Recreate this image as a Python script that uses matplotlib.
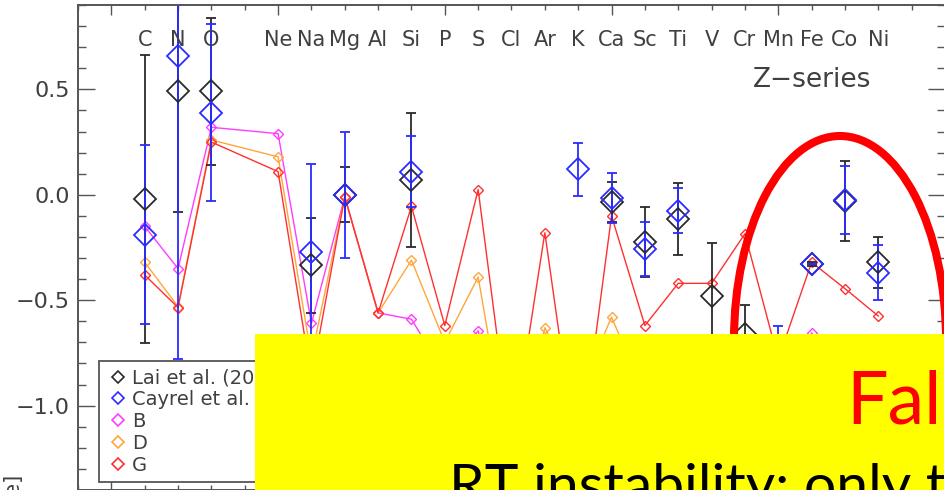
import numpy as np
import matplotlib.pyplot as plt
from matplotlib.lines import Line2D
from matplotlib.patches import Ellipse, Rectangle
from matplotlib.ticker import MultipleLocator

# element labels along the top (F, Z=9, is left out)
elements = ['C', 'N', 'O', 'Ne', 'Na', 'Mg', 'Al', 'Si', 'P', 'S', 'Cl', 'Ar',
            'K', 'Ca', 'Sc', 'Ti', 'V', 'Cr', 'Mn', 'Fe', 'Co', 'Ni']
element_z = [6, 7, 8, 10, 11, 12, 13, 14, 15, 16, 17, 18,
             19, 20, 21, 22, 23, 24, 25, 26, 27, 28]

# model yields [X/Fe]
model_b = [-0.15, -0.35, 0.32, 0.29, -0.61, -0.01, -0.56, -0.59, -0.85, -0.645, -1.30, -0.95,
           -1.20, -0.85, -1.00, -0.90, -1.00, -0.85, -1.10, -0.655, -0.90, -0.85]
model_d = [-0.32, -0.53, 0.26, 0.18, -0.77, -0.01, -0.56, -0.31, -0.70, -0.39, -1.30, -0.63,
           -0.95, -0.58, -0.95, -0.85, -0.95, -0.80, -1.10, -0.80, -0.90, -0.85]
model_g = [-0.38, -0.535, 0.25, 0.11, -0.87, -0.01, -0.56, -0.055, -0.62, 0.025, -1.20, -0.18,
           -1.30, -0.10, -0.62, -0.42, -0.42, -0.185, -0.78, -0.32, -0.445, -0.575]

# observed abundances
lai_z = [6, 7, 8, 11, 12, 14, 20, 21, 22, 23, 24, 26, 27, 28]
lai_val = [-0.02, 0.49, 0.49, -0.335, 0.0, 0.07, -0.035, -0.225, -0.115, -0.48, -0.66, -0.33, -0.03, -0.32]
lai_err = [0.685, 0.57, 0.35, 0.225, 0.13, 0.32, 0.095, 0.165, 0.17, 0.25, 0.135, 0.01, 0.19, 0.12]

cayrel_z = [6, 7, 8, 11, 12, 14, 19, 20, 21, 22, 25, 26, 27, 28]
cayrel_val = [-0.19, 0.66, 0.39, -0.27, 0.0, 0.11, 0.12, -0.017, -0.257, -0.075, -0.90, -0.33, -0.024, -0.37]
cayrel_err = [0.425, 1.44, 0.42, 0.415, 0.30, 0.17, 0.125, 0.118, 0.13, 0.105, 0.28, 0.0, 0.16, 0.13]

c_lai = '#2a2a2a'
c_cay = '#2b2bff'
c_b = '#ff3cff'
c_d = '#ffa63c'
c_g = '#ff3030'
axis_gray = '#555555'
text_gray = '#404040'

fig = plt.figure(figsize=(9.45, 4.9), dpi=100)
ax = fig.add_axes([78 / 945, 0.0, 1 - 78 / 945, 485 / 490])

for vals, col in [(model_b, c_b), (model_d, c_d), (model_g, c_g)]:
    ax.plot(element_z, vals, color=col, lw=1.0, marker='D', ms=5.5,
            mfc='none', mec=col, mew=1.0)

ax.errorbar(lai_z, lai_val, yerr=lai_err, fmt='D', ms=11, mfc='none', mec=c_lai,
            mew=1.3, ecolor=c_lai, elinewidth=1.3, capsize=3.8, capthick=1.3)
ax.errorbar(cayrel_z, cayrel_val, yerr=cayrel_err, fmt='D', ms=11, mfc='none', mec=c_cay,
            mew=1.3, ecolor=c_cay, elinewidth=1.3, capsize=3.8, capthick=1.3)

ax.set_xlim(4, 30)
ax.set_ylim(-1.40, 0.90)

ax.xaxis.set_major_locator(MultipleLocator(5))
ax.xaxis.set_minor_locator(MultipleLocator(1))
ax.yaxis.set_major_locator(MultipleLocator(0.5))
ax.yaxis.set_minor_locator(MultipleLocator(0.1))
ax.tick_params(axis='both', which='both', direction='in', top=True, right=True,
               color=axis_gray, width=1.0, labelbottom=False)
ax.tick_params(axis='x', which='major', length=7.2)
ax.tick_params(axis='x', which='minor', length=3.6)
ax.tick_params(axis='y', which='major', length=12, labelsize=16, labelcolor=text_gray, pad=6)
ax.tick_params(axis='y', which='minor', length=5.8)
ax.set_yticks([0.5, 0.0, -0.5, -1.0])
ax.set_yticklabels(['0.5', '0.0', '\u22120.5', '\u22121.0'])
for sp in ax.spines.values():
    sp.set_color(axis_gray)
    sp.set_linewidth(1.4)

for name, z in zip(elements, element_z):
    ax.text(z, 0.735, name, ha='center', va='center', fontsize=15, color=text_gray)
ax.text(26.0, 0.545, 'Z\u2212series', ha='center', va='center', fontsize=19, color=text_gray)

handles = [Line2D([], [], ls='none', marker='D', ms=6.5, mfc='none', mec=c, mew=1.2)
           for c in (c_lai, c_cay, c_b, c_d, c_g)]
labels = ['Lai et al. (2008)', 'Cayrel et al. (2004)', 'B', 'D', 'G']
leg = ax.legend(handles, labels, loc='lower left', bbox_to_anchor=(21 / 867, 8 / 485),
                borderaxespad=0, fontsize=14, handlelength=1.24, handletextpad=0.1,
                borderpad=0.36, labelspacing=0.15, fancybox=False, framealpha=1,
                edgecolor=axis_gray)
leg.get_frame().set_linewidth(1.3)
for t in leg.get_texts():
    t.set_color(text_gray)

fig.text(12 / 945, 17 / 490, '[X/Fe]', rotation=90, ha='center', va='top',
         fontsize=15, color=text_gray)

# highlight around the iron-peak elements
fig.add_artist(Ellipse((840 / 945, 1 - 340 / 490), 212 / 945, 408 / 490,
                       transform=fig.transFigure, fill=False, ec='#ff0000',
                       lw=5.8, zorder=5))

# overlaid note box
fig.add_artist(Rectangle((255 / 945, 0.0), 1.0, 156 / 490, transform=fig.transFigure,
                         fc='#ffff00', ec='none', zorder=10))
fig.text(846 / 945, 67 / 490, 'Fallback', color='#ff0000', fontsize=53,
         family=['Lato', 'DejaVu Sans'], ha='left', va='baseline', zorder=11)
fig.text(449 / 945, -14 / 490, 'RT instability: only the inner layers mix', color='black',
         fontsize=41, family=['Lato', 'DejaVu Sans'], ha='left', va='baseline', zorder=11)

fig.savefig('out.png', dpi=100)
